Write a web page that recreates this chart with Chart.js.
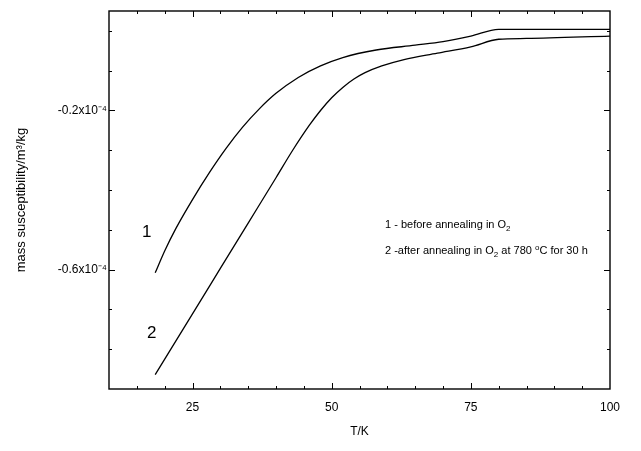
<!DOCTYPE html>
<html>
<head>
<meta charset="UTF-8">
<title>mass susceptibility vs T</title>
<script src="https://cdn.jsdelivr.net/npm/chart.js@4.4.0/dist/chart.umd.min.js"></script>
<style>
    body { margin: 0; background: #fff; }
    .wrap { position: relative; width: 641px; height: 451px; }
    .note {
        position: absolute;
        font-family: "Liberation Sans", Arial, sans-serif;
        color: #000;
        white-space: nowrap;
    }
    .curve-no { font-size: 17px; line-height: 18px; }
    .legend-line { font-size: 11px; line-height: 13px; }
    .legend-line sub { font-size: 8px; vertical-align: -3px; line-height: 0; }
    .legend-line sup { font-size: 8px; vertical-align: 4px; line-height: 0; }
</style>
</head>
<body>
<div class="wrap">
    <canvas id="chart" width="641" height="451"></canvas>
    <div class="note curve-no" style="left:142px; top:223px;">1</div>
    <div class="note curve-no" style="left:147px; top:324px;">2</div>
    <div class="note legend-line" style="left:385px; top:218px;">1 - before annealing in O<sub>2</sub></div>
    <div class="note legend-line" style="left:385px; top:244px;">2 -after annealing in O<sub>2</sub> at 780 <sup>o</sup>C for 30 h</div>
</div>

<script>
    // temperature in K, susceptibility in units of 1e-4 m^3/kg
    const temp1 = [18.3, 20, 22, 25, 28, 31, 34, 37, 40, 44, 48, 52, 58, 65, 70, 75, 80, 85, 100];
    const chi1  = [-0.608, -0.553, -0.497, -0.424, -0.357, -0.296, -0.242, -0.196, -0.157, -0.117, -0.088, -0.067, -0.048, -0.036, -0.027, -0.013, 0.004, 0.004, 0.004];

    const temp2 = [18.3, 25, 30, 35, 40, 43, 46, 48, 50, 52, 54, 56, 59, 63, 69, 75, 80, 85, 100];
    const chi2  = [-0.864, -0.711, -0.597, -0.483, -0.369, -0.300, -0.237, -0.200, -0.168, -0.142, -0.121, -0.105, -0.088, -0.072, -0.056, -0.040, -0.021, -0.019, -0.013];

    const xLabelled = [25, 50, 75, 100];
    const yLabelled = [-0.2, -0.6];

    const near = (a, b) => Math.abs(a - b) < 1e-6;

    function toPoints(xs, ys) {
        return xs.map((x, i) => ({ x: x, y: ys[i] }));
    }

    // frame round the plot with inward ticks on all four sides
    const frameTicks = {
        id: 'frameTicks',
        afterDraw(chart) {
            const { ctx, chartArea: a, scales: { x, y } } = chart;
            ctx.save();
            ctx.strokeStyle = '#000';
            ctx.lineWidth = 1.4;
            ctx.strokeRect(a.left, a.top, a.right - a.left, a.bottom - a.top);
            ctx.lineWidth = 1;
            ctx.beginPath();
            x.ticks.forEach(t => {
                const v = t.value;
                if (v <= x.min || v >= x.max || v % 5 !== 0) return;
                const px = Math.round(x.getPixelForValue(v)) + 0.5;
                const len = xLabelled.includes(v) ? 6 : 3;
                ctx.moveTo(px, a.bottom); ctx.lineTo(px, a.bottom - len);
                ctx.moveTo(px, a.top); ctx.lineTo(px, a.top + len);
            });
            y.ticks.forEach(t => {
                const v = t.value;
                if (v <= y.min || v >= y.max || !near(v * 10, Math.round(v * 10))) return;
                const py = Math.round(y.getPixelForValue(v)) + 0.5;
                const len = yLabelled.some(l => near(l, v)) ? 6 : 3;
                ctx.moveTo(a.left, py); ctx.lineTo(a.left + len, py);
                ctx.moveTo(a.right, py); ctx.lineTo(a.right - len, py);
            });
            ctx.stroke();
            ctx.restore();
        }
    };

    const tickFont = { family: '"Liberation Sans", Arial, sans-serif', size: 12 };

    new Chart(document.getElementById('chart'), {
        type: 'scatter',
        data: {
            datasets: [
                { label: '1', data: toPoints(temp1, chi1) },
                { label: '2', data: toPoints(temp2, chi2) }
            ]
        },
        options: {
            responsive: false,
            animation: false,
            devicePixelRatio: 1,
            layout: { padding: { top: 11, right: 31, left: 0, bottom: 0 } },
            elements: {
                point: { radius: 0 },
                line: { borderColor: '#000', borderWidth: 1.3, cubicInterpolationMode: 'monotone' }
            },
            datasets: { scatter: { showLine: true, borderColor: '#000' } },
            plugins: { legend: { display: false }, tooltip: { enabled: false } },
            scales: {
                x: {
                    type: 'linear',
                    min: 10,
                    max: 100,
                    afterFit(s) { s.height = 62; },
                    grid: { display: false, drawTicks: false },
                    border: { display: false },
                    ticks: {
                        stepSize: 5,
                        autoSkip: false,
                        maxRotation: 0,
                        padding: 11,
                        color: '#000',
                        font: tickFont,
                        callback: v => xLabelled.includes(v) ? String(v) : ''
                    },
                    title: {
                        display: true,
                        text: 'T/K',
                        color: '#000',
                        font: tickFont,
                        padding: { top: 0, bottom: 12 }
                    }
                },
                y: {
                    type: 'linear',
                    min: -0.9,
                    max: 0.05,
                    afterFit(s) { s.width = 109; },
                    grid: { display: false, drawTicks: false },
                    border: { display: false },
                    ticks: {
                        stepSize: 0.1,
                        autoSkip: false,
                        padding: 2,
                        color: '#000',
                        font: tickFont,
                        callback: v => yLabelled.some(l => near(l, v)) ? v.toFixed(1) + 'x10\u207B\u2074' : ''
                    },
                    title: {
                        display: true,
                        text: 'mass susceptibility/m\u00B3/kg',
                        color: '#000',
                        font: { family: '"Liberation Sans", Arial, sans-serif', size: 13 },
                        padding: { top: 14, bottom: 0 }
                    }
                }
            }
        },
        plugins: [frameTicks]
    });
</script>
</body>
</html>
